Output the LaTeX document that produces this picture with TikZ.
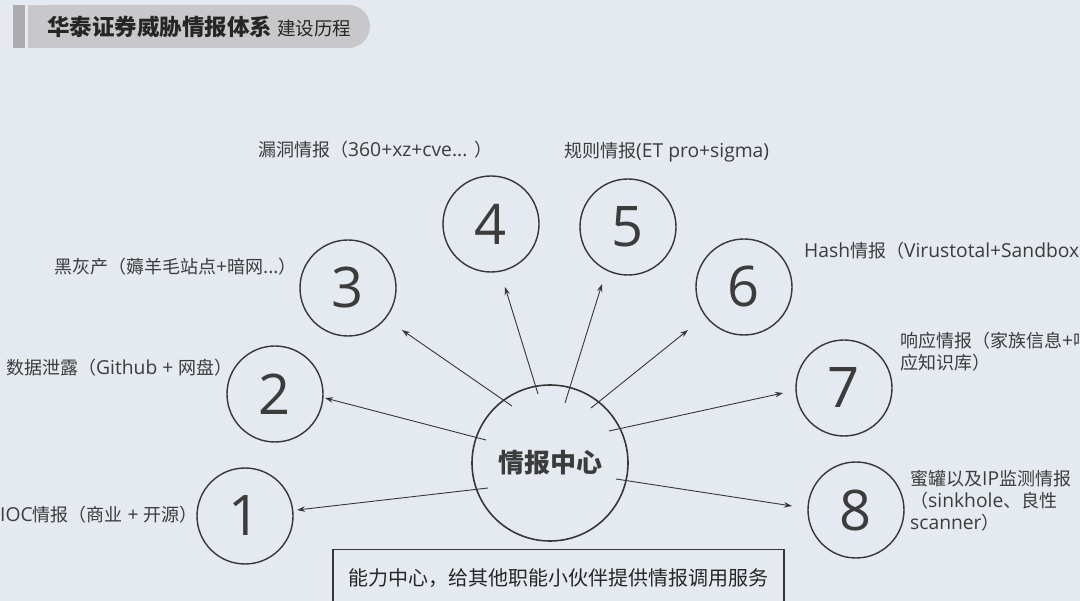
\documentclass[tikz,border=0pt]{standalone}
\usepackage{fontspec}
\setmainfont{Noto Sans CJK SC}
\newfontfamily\lat{Open Sans}[Scale=1.07]
\newfontfamily\digf{Open Sans}
\usetikzlibrary{arrows.meta}
\definecolor{bgc}{RGB}{229,233,240}
\definecolor{txt}{RGB}{60,60,60}
\definecolor{ln}{RGB}{55,55,55}
\definecolor{hbar}{RGB}{200,200,203}
\definecolor{hstrip}{RGB}{172,172,175}
\tikzset{
  numc/.style={circle, draw=ln, line width=1.4pt, minimum size=96pt, inner sep=0pt, text=txt, font=\fontsize{56}{60}\selectfont\digf},
  hubc/.style={circle, draw=ln, line width=1.6pt, minimum size=156pt, inner sep=0pt, text=txt, font=\fontsize{26}{30}\selectfont\bfseries},
  lab/.style={anchor=west, inner sep=0pt, text=txt, font=\fontsize{18}{22}\selectfont, align=left},
  arr/.style={draw=ln, line width=0.9pt, -{Stealth[length=8pt,width=5.5pt]}},
}
\begin{document}
\begin{tikzpicture}[x=1pt,y=-1pt]
\useasboundingbox (0,0) rectangle (1080,601);
\fill[bgc] (0,0) rectangle (1080,601);
% header
\fill[hstrip] (13,5) rectangle (25,48);
\fill[hbar, rounded corners=21.5pt] (28,5) rectangle (370,48);
\fill[hbar] (28,5) rectangle (200,48);
\node[anchor=west, inner sep=0pt, text=black!85] (title) at (47,27)
  {{\fontsize{22.5}{26}\selectfont\bfseries 华泰证券威胁情报体系}\hspace{5pt}{\fontsize{18.5}{22}\selectfont 建设历程}};
% hub
\node[hubc] (hub) at (550,463) {情报中心};
% numbered circles
\node[numc] (n1) at (245,516) {1};
\node[numc] (n2) at (275,394) {2};
\node[numc] (n3) at (348,288) {3};
\node[numc] (n4) at (491,224) {4};
\node[numc] (n5) at (628,227) {5};
\node[numc] (n6) at (744,287) {6};
\node[numc] (n7) at (844,388) {7};
\node[numc] (n8) at (856,510) {8};
% labels
\node[lab] (l1) at (0,515) {{\lat IOC}情报（商业{\lat\ + }开源）};
\node[lab] (l2) at (6,368) {数据泄露（{\lat Github + }网盘）};
\node[lab] (l3) at (54,267) {黑灰产（薅羊毛站点{\lat +}暗网{\lat ...}）};
\node[lab] (l4) at (258,150) {漏洞情报（{\lat 360+xz+cve... }）};
\node[lab] (l5) at (564,152) {规则情报{\lat (ET pro+sigma)}};
\node[lab] (l6) at (804,251) {{\lat Hash}情报（{\lat Virustotal+Sandbox}};
\node[lab, anchor=north west] (l7) at (900,332) {响应情报（家族信息{\lat +}响\\应知识库）};
\node[lab, anchor=north west] (l8) at (910,470) {蜜罐以及{\lat IP}监测情报\\（{\lat sinkhole}、良性\\{\lat scanner}）};
% arrow end points
\coordinate (s1) at (488,488); \coordinate (e1) at (297,510);
\coordinate (s2) at (486,440); \coordinate (e2) at (325,398);
\coordinate (s3) at (512,406); \coordinate (e3) at (402,330);
\coordinate (s4) at (538,394); \coordinate (e4) at (505,287);
\coordinate (s5) at (565,403); \coordinate (e5) at (602,284);
\coordinate (s6) at (591,408); \coordinate (e6) at (688,330);
\coordinate (s7) at (609,431); \coordinate (e7) at (783,393);
\coordinate (s8) at (616,479); \coordinate (e8) at (792,506);
\foreach \i in {1,...,8} { \draw[arr] (s\i) -- (e\i); }
% bottom box
\node[draw=ln, line width=1.4pt, minimum width=451pt, minimum height=70pt, anchor=north, inner sep=0pt] (box) at (558.5,549) {};
\node[inner sep=0pt, text=black!85, font=\fontsize{20}{24}\selectfont] (boxt) at (558,578) {能力中心，给其他职能小伙伴提供情报调用服务};
\end{tikzpicture}
\end{document}
